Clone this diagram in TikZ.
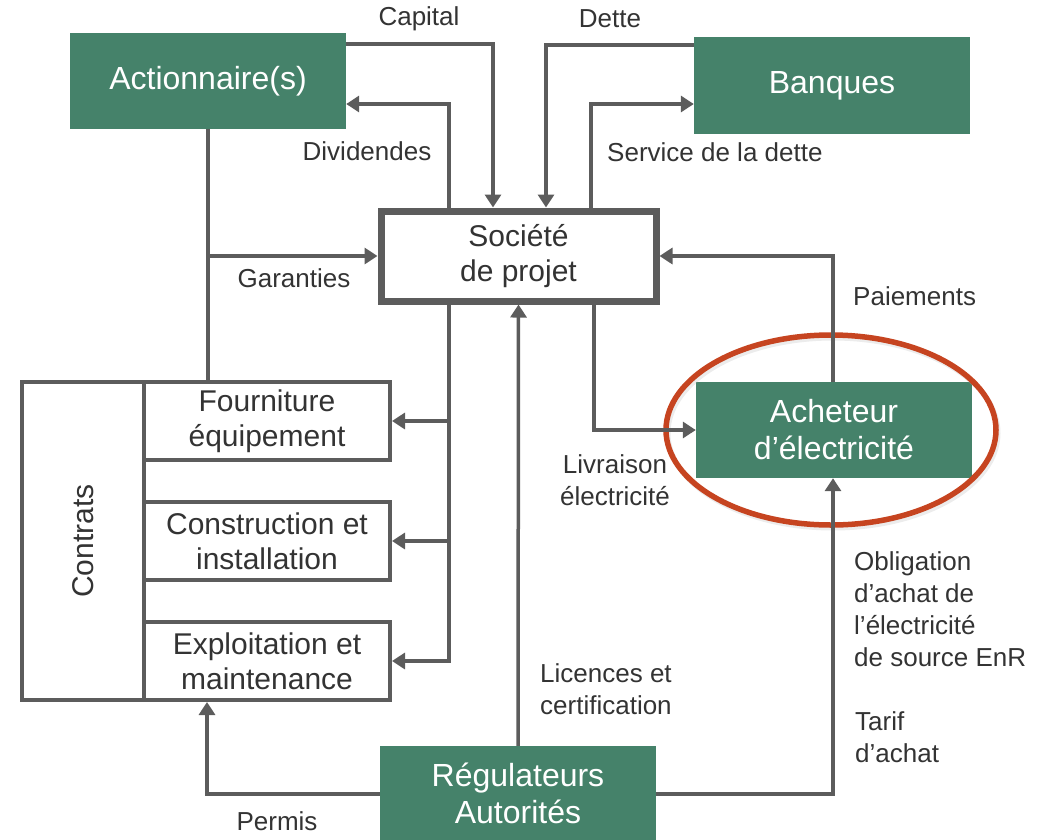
\documentclass[tikz,border=0pt]{standalone}
\usepackage{fontspec}
\setmainfont{Liberation Sans}
\usetikzlibrary{arrows.meta,shapes.geometric}
\definecolor{boxgreen}{RGB}{69,130,106}
\definecolor{linegray}{RGB}{92,92,92}
\definecolor{txtgray}{RGB}{51,51,51}
\definecolor{hlred}{RGB}{198,68,32}
\tikzset{
  greenbox/.style={fill=boxgreen, text=white, inner sep=0pt, align=center,
    font=\fontsize{32}{37}\selectfont},
  whitebox/.style={draw=linegray, line width=4pt, fill=white, inner sep=0pt, align=center,
    text=txtgray, font=\fontsize{30}{35}\selectfont},
  conn/.style={draw=linegray, line width=3.5pt},
  arr/.style={conn, -{Triangle[length=13pt,width=16pt]}},
  lbl/.style={text=txtgray, inner sep=0pt, font=\fontsize{26}{32}\selectfont},
}
\begin{document}
\begin{tikzpicture}[x=1pt,y=-1pt]
\useasboundingbox (0,0) rectangle (1037,839);

% boxes
\node[greenbox, minimum width=276pt, minimum height=96pt] (act) at (208,81) {Actionnaire(s)};
\node[greenbox, minimum width=276pt, minimum height=97pt] (ban) at (832,85.5) {Banques};
\node[whitebox, line width=7pt, minimum width=275pt, minimum height=90pt] (soc) at (518.5,256) {Société\\de projet};
\node[greenbox, minimum width=276pt, minimum height=96pt] (ach) at (834,430) {Acheteur\\d’électricité};
\node[greenbox, minimum width=276pt, minimum height=95pt] (reg) at (518,793.5) {Régulateurs\\Autorités};

\node[whitebox, rotate=90, minimum width=318pt, minimum height=122pt] (ctr) at (83,541) {Contrats};
\node[whitebox, minimum width=246pt, minimum height=78pt] (four) at (267,421) {Fourniture\\équipement};
\node[whitebox, minimum width=246pt, minimum height=78pt] (cons) at (267,541) {Construction et\\installation};
\node[whitebox, minimum width=246pt, minimum height=78pt] (expl) at (267,661) {Exploitation et\\maintenance};

% highlight ellipse
\node[ellipse, draw=black!25, line width=5pt, opacity=0.3, minimum width=330pt, minimum height=190pt, inner sep=0pt] (hlsh) at (833,433) {};
\node[ellipse, draw=hlred, line width=5.5pt, minimum width=330pt, minimum height=190pt, inner sep=0pt] (hl) at (831,430) {};

% connectors
\draw[arr] (act.east |- 0,44) -| (soc.north -| 493,0);
\draw[arr] (soc.north -| 449,0) |- (act.east |- 0,104);
\draw[conn] (act.south) -- (act.south |- four.north);
\draw[arr] (act.south |- 0,256) -- (soc.west |- 0,256);

\draw[arr] (ban.west |- 0,45) -| (soc.north -| 546,0);
\draw[arr] (soc.north -| 591,0) |- (ban.west |- 0,104);

\draw[arr] (ach.north -| 833,0) |- (soc.east |- 0,256);
\draw[arr] (soc.south -| 594,0) |- (ach.west);

\draw[conn] (soc.south -| 449,0) -- (expl.east -| 449,0);
\draw[arr] (four.east -| 449,0) -- (four.east);
\draw[arr] (cons.east -| 449,0) -- (cons.east);
\draw[arr] ([xshift=1.75pt]expl.east -| 449,0) -- (expl.east);

\draw[arr] (reg.north) -- (soc.south);
\draw[arr] (reg.east |- 0,794) -| (ach.south -| 833,0);
\draw[arr] (reg.west |- 0,794) -| (expl.south -| 207,0);

% labels
\node[lbl] (lcap) at (419,19) {Capital};
\node[lbl] (ldet) at (610,19) {Dette};
\node[lbl] (ldiv) at (367,151) {Dividendes};
\node[lbl, anchor=west] (lser) at (607,152) {Service de la dette};
\node[lbl] (lgar) at (294,278) {Garanties};
\node[lbl, anchor=west] (lpai) at (853,296) {Paiements};
\node[lbl, align=center] (lliv) at (615,480) {Livraison\\électricité};
\node[lbl, align=left, anchor=west] (lobl) at (854,609) {Obligation\\d’achat de\\l’électricité\\de source EnR};
\node[lbl, align=left, anchor=west] (ltar) at (855,737) {Tarif\\d’achat};
\node[lbl, align=left, anchor=west] (llic) at (540,689) {Licences et\\certification};
\node[lbl] (lper) at (277,821) {Permis};
\end{tikzpicture}
\end{document}
